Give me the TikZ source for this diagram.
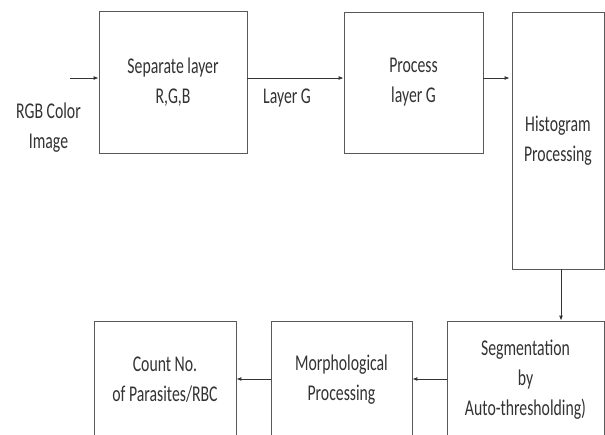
\documentclass[tikz,border=0pt]{standalone}
\usepackage{fontspec}
\setmainfont{Carlito}[FakeStretch=0.7]
\usepackage{tikz}
\usetikzlibrary{arrows.meta,positioning,calc}

\begin{document}
\begin{tikzpicture}[x=1pt, y=-1pt,
        every node/.style={font=\fontsize{22.5}{30}\selectfont, text=black!80, align=center},
        blk/.style={draw=black!65, line width=0.8pt, inner sep=0pt},
        link/.style={-{Latex[length=5pt,width=4pt]}, line width=0.9pt, black!80}]
        \clip (0,0) rectangle (605,434);
        \fill[white] (0,0) rectangle (605,434);
        % top row
        \node[blk, minimum width=148pt, minimum height=142pt] (sep) at (173,82) {Separate layer\\R,G,B};
        \node[blk, minimum width=139pt, minimum height=141pt] (proc) at (413.5,82.5) {Process\\layer G};
        \node[blk, minimum width=92pt, minimum height=257pt] (hist) at (558,140.5) {Histogram\\Processing};
        % bottom row
        \node[blk, minimum width=157pt, minimum height=118pt] (seg) at (525.5,380) {Segmentation\\by\\Auto-thresholding)};
        \node[blk, minimum width=141pt, minimum height=118pt] (morph) at (341.5,380) {Morphological\\Processing};
        \node[blk, minimum width=142pt, minimum height=118pt] (count) at (165,380) {Count No.\\of Parasites/RBC};
        % labels
        \node (rgb) at (48.5,127.5) {RGB Color\\Image};
        \node (layerg) at (287,98) {Layer G};
        \coordinate (in) at (70,78);
        \draw[link] (in) -- (in -| sep.west);
        \draw[link] (sep.east |- in) -- (proc.west |- in);
        \draw[link] (proc.east |- in) -- ([xshift=-2pt]hist.west |- in);
        \draw[link] ($(hist.south)+(3,0)$) -- ($(seg.north)+(35.5,0)$);
        \draw[link] (seg.west |- 0,379) -- (morph.east |- 0,379);
        \draw[link] (morph.west |- 0,379) -- (count.east |- 0,379);
    \end{tikzpicture}
\end{document}
